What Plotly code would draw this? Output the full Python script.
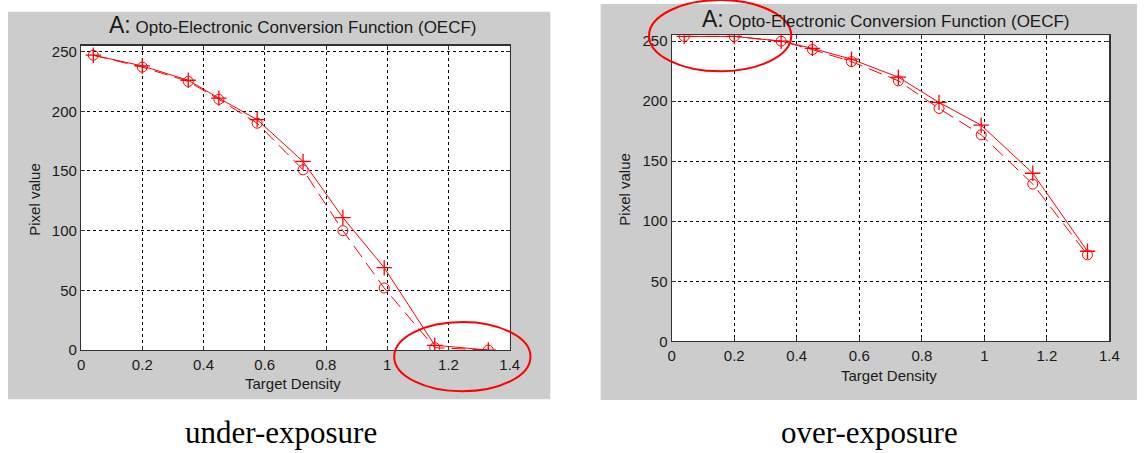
import plotly.graph_objects as go

# ---------------- data ----------------
target_density = [0.04, 0.20, 0.35, 0.45, 0.575, 0.725, 0.855, 0.99, 1.155, 1.33]
under_plus = [247, 238, 226, 211, 193, 158, 111, 69, 4, 0]
under_circle = [247, 237, 225, 210, 190, 151, 100, 52, 2, 0]
over_plus = [254, 254, 250, 244, 235, 220, 199, 180, 140, 75]
over_circle = [254, 254, 250, 243, 233, 217, 194, 172, 131, 72]
x_tick_vals = [0, 0.2, 0.4, 0.6, 0.8, 1.0, 1.2, 1.4]
x_tick_text = ["0", "0.2", "0.4", "0.6", "0.8", "1", "1.2", "1.4"]
y_tick_vals = [0, 50, 100, 150, 200, 250]
y_tick_text = ["0", "50", "100", "150", "200", "250"]
captions = ["under-exposure", "over-exposure"]
chart_title = "Opto-Electronic Conversion Function (OECF)"
x_label = "Target Density"
y_label = "Pixel value"

# ---------------- layout helpers ----------------
W, H = 1148, 453


def px(x):
    return x / W


def py(y):
    return 1 - y / H


RED = "#ff0000"
TXT = "#1a1a1a"
SANS = "Liberation Sans, Arial, sans-serif"
SERIF = "Liberation Serif, Times New Roman, serif"

# plot boxes in pixels: (left, right, top, bottom)
boxes = [(78, 512, 43.7, 355.7), (676, 1119, 33, 346.7)]
panels = [(4, 553, 9, 406), (604, 1147, 1, 407)]
title_pos = [(293, 23), (893, 16)]
xlabel_pos = [(293, 390), (896, 382)]
ylabel_pos = [(30, 201), (628, 191)]
caption_pos = [(280, 440), (876, 440)]
ellipses = [(395, 533, 327, 398), (653, 797, -3, 70)]

series = [(under_plus, under_circle), (over_plus, over_circle)]

fig = go.Figure()

for i, (plus_vals, circ_vals) in enumerate(series):
    xa = "x" if i == 0 else "x2"
    ya = "y" if i == 0 else "y2"
    fig.add_trace(go.Scatter(
        x=target_density, y=circ_vals, xaxis=xa, yaxis=ya,
        mode="lines+markers",
        line=dict(color=RED, width=1, dash="14px,7px"),
        marker=dict(symbol="circle-open", size=10, color=RED,
                    line=dict(color=RED, width=1)),
        showlegend=False, hoverinfo="skip"))
    fig.add_trace(go.Scatter(
        x=target_density, y=plus_vals, xaxis=xa, yaxis=ya,
        mode="lines+markers",
        line=dict(color=RED, width=1),
        marker=dict(symbol="cross-thin-open", size=11, color=RED,
                    line=dict(color=RED, width=1.3)),
        showlegend=False, hoverinfo="skip"))

axis_common = dict(
    showline=True, linecolor="#333333", linewidth=1.2, mirror="ticks",
    ticks="inside", ticklen=4, tickcolor="#333333",
    showgrid=True, gridcolor="#000000", gridwidth=1, griddash="3px,3px",
    zeroline=False, fixedrange=True,
    tickfont=dict(family=SANS, size=15, color=TXT),
)

layout_axes = {}
for i, (l, r, t, b) in enumerate(boxes):
    sfx = "" if i == 0 else "2"
    layout_axes["xaxis" + sfx] = dict(
        axis_common, domain=[px(l), px(r)], range=[0, 1.4],
        tickvals=x_tick_vals, ticktext=x_tick_text,
        ticklabelstandoff=1, anchor="y" + sfx)
    layout_axes["yaxis" + sfx] = dict(
        axis_common, domain=[py(b), py(t)], range=[0, 255],
        tickvals=y_tick_vals, ticktext=y_tick_text,
        anchor="x" + sfx)

shapes = []
for (l, r, t, b) in panels:
    shapes.append(dict(type="rect", xref="paper", yref="paper",
                       x0=px(l), x1=px(r), y0=py(b), y1=py(t),
                       fillcolor="#cccccc", line=dict(width=0), layer="below"))
for (l, r, t, b) in boxes:
    shapes.append(dict(type="rect", xref="paper", yref="paper",
                       x0=px(l), x1=px(r), y0=py(b), y1=py(t),
                       fillcolor="#ffffff", line=dict(width=0), layer="below"))
for (l, r, t, b) in ellipses:
    shapes.append(dict(type="circle", xref="paper", yref="paper",
                       x0=px(l), x1=px(r), y0=py(b), y1=py(t),
                       line=dict(color=RED, width=2), layer="above"))

annotations = []
for i in range(2):
    tx, ty = title_pos[i]
    annotations.append(dict(
        xref="paper", yref="paper", x=px(tx), y=py(ty),
        xanchor="center", yanchor="middle", showarrow=False,
        text="<span style='font-size:23px'>A:</span> " + chart_title,
        font=dict(family=SANS, size=17, color=TXT)))
    lx, ly = xlabel_pos[i]
    annotations.append(dict(
        xref="paper", yref="paper", x=px(lx), y=py(ly),
        xanchor="center", yanchor="middle", showarrow=False,
        text=x_label, font=dict(family=SANS, size=15, color=TXT)))
    vx, vy = ylabel_pos[i]
    annotations.append(dict(
        xref="paper", yref="paper", x=px(vx), y=py(vy),
        xanchor="center", yanchor="middle", showarrow=False, textangle=-90,
        text=y_label, font=dict(family=SANS, size=15, color=TXT)))
    cx, cy = caption_pos[i]
    annotations.append(dict(
        xref="paper", yref="paper", x=px(cx), y=py(cy),
        xanchor="center", yanchor="middle", showarrow=False,
        text=captions[i], font=dict(family=SERIF, size=31, color="#000000")))

fig.update_layout(
    width=W, height=H,
    margin=dict(l=0, r=0, t=0, b=0),
    paper_bgcolor="#ffffff",
    plot_bgcolor="rgba(0,0,0,0)",
    showlegend=False,
    shapes=shapes,
    annotations=annotations,
    **layout_axes,
)

fig.write_html(
    "out.html",
    config={"displayModeBar": False, "staticPlot": True},
    post_script="document.body.style.margin='0';"
                "document.body.style.overflow='hidden';",
)
